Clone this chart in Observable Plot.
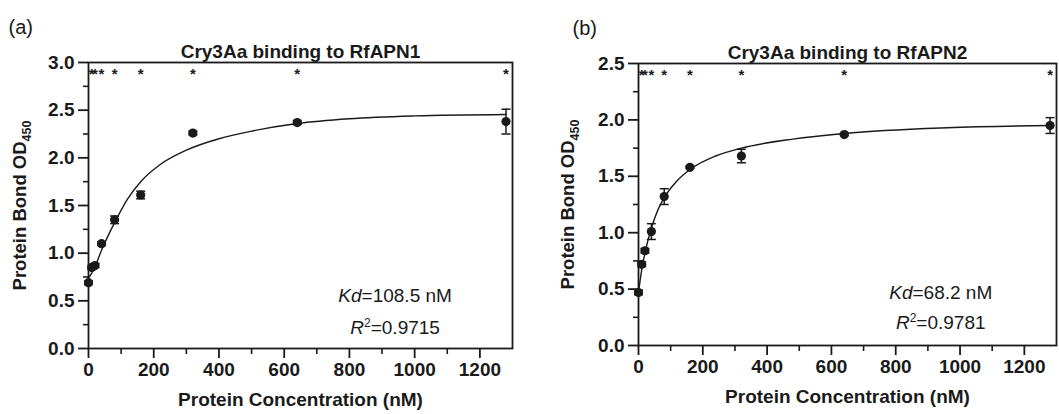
<!DOCTYPE html>
<html><head><meta charset="utf-8">
<script src="https://cdn.jsdelivr.net/npm/d3@7"></script>
<script src="https://cdn.jsdelivr.net/npm/@observablehq/plot@0.6"></script>
<style>
body{margin:0;background:#fff;}
#wrap{display:flex;width:1059px;height:414px;overflow:hidden;background:#fff;}
#wrap svg{flex:none;}
</style></head><body><div id="wrap"></div>
<script>
// ---- data ----
const conc = [0, 10, 20, 40, 80, 160, 320, 640, 1280];
const odA  = [0.69, 0.85, 0.87, 1.10, 1.35, 1.61, 2.26, 2.37, 2.38];
const errA = [0.02, 0.02, 0.02, 0.02, 0.04, 0.04, 0.02, 0.02, 0.13];
const odB  = [0.47, 0.72, 0.84, 1.01, 1.32, 1.58, 1.68, 1.87, 1.95];
const errB = [0.02, 0.02, 0.02, 0.07, 0.07, 0.01, 0.06, 0.01, 0.07];

const fitXA = [0, 10, 20, 40, 80, 120, 160, 220, 300, 400, 500, 640, 800, 1000, 1280];
const fitYA = [0.74, 0.79, 0.86, 1.03, 1.32, 1.57, 1.75, 1.93, 2.08, 2.20, 2.28, 2.36, 2.41, 2.44, 2.455];
const fitXB = [0, 10, 20, 40, 60, 80, 120, 160, 240, 320, 480, 640, 960, 1280];
const fitYB = [0.47, 0.67, 0.82, 1.04, 1.20, 1.31, 1.46, 1.56, 1.68, 1.75, 1.83, 1.88, 1.93, 1.95];

const starConc = [10, 20, 40, 80, 160, 320, 640, 1280];
const titles = ["Cry3Aa binding to RfAPN1", "Cry3Aa binding to RfAPN2"];
const panelLabels = ["(a)", "(b)"];
const kdTexts = ["Kd=108.5 nM", "Kd=68.2 nM"];
const r2Texts = ["R2=0.9715", "R2=0.9781"];
const yLabel = "Protein Bond OD450";
const xLabel = "Protein Concentration (nM)";
const xTicks = [0, 200, 400, 600, 800, 1000, 1200];
const xMinor = [100, 300, 500, 700, 900, 1100];
const yTicksA = [0, 0.5, 1.0, 1.5, 2.0, 2.5, 3.0];
const yMinorA = [0.25, 0.75, 1.25, 1.75, 2.25, 2.75];
const yTicksB = [0, 0.5, 1.0, 1.5, 2.0, 2.5];
const yMinorB = [0.25, 0.75, 1.25, 1.75, 2.25];

const FONT = "'Liberation Sans', Arial, Helvetica, sans-serif";
const INK = "#1a1a1a";
const cap = {draw(ctx) { ctx.moveTo(-4.5, 0); ctx.lineTo(4.5, 0); }};

function panel(cfg) {
  const pts = conc.map((c, i) => ({c, od: cfg.od[i], lo: cfg.od[i] - cfg.err[i], hi: cfg.od[i] + cfg.err[i]}));
  const fit = cfg.fx.map((x, i) => ({x, y: cfg.fy[i]}));
  const svg = Plot.plot({
    width: cfg.width, height: 414,
    marginLeft: cfg.ml, marginRight: cfg.mr, marginTop: cfg.mt, marginBottom: cfg.mb,
    x: {domain: [0, 1300], label: null},
    y: {domain: [0, cfg.ymax], label: null},
    style: {fontFamily: FONT, background: "#fff", color: INK, overflow: "visible"},
    marks: [
      Plot.frame({stroke: INK, strokeWidth: 1.8}),
      Plot.axisY(cfg.yt, {tickSize: 10, tickPadding: 4, tickFormat: d3.format(".1f"), fontSize: 19, fontWeight: "bold", stroke: INK, strokeWidth: 1.8, label: null}),
      Plot.axisY(cfg.ym, {tickSize: 5, tickFormat: () => "", stroke: INK, strokeWidth: 1.6, label: null}),
      Plot.axisX(xTicks, {tickSize: 10, tickPadding: 4, tickFormat: d => String(d), fontSize: 19, fontWeight: "bold", stroke: INK, strokeWidth: 1.8, label: null}),
      Plot.axisX(xMinor, {tickSize: 6, tickFormat: () => "", stroke: INK, strokeWidth: 1.6, label: null}),
      Plot.line(fit, {x: "x", y: "y", curve: "monotone-x", stroke: INK, strokeWidth: 1.4}),
      Plot.ruleX(pts, {x: "c", y1: "lo", y2: "hi", stroke: INK, strokeWidth: 1.5}),
      Plot.dot(pts, {x: "c", y: "hi", symbol: cap, stroke: INK, strokeWidth: 1.5, fill: "none"}),
      Plot.dot(pts, {x: "c", y: "lo", symbol: cap, stroke: INK, strokeWidth: 1.5, fill: "none"}),
      Plot.dot(pts, {x: "c", y: "od", r: 4.6, fill: INK, stroke: "none"}),
      Plot.text(starConc, {x: d => d, y: cfg.starY, text: () => "*", fontSize: 15, fontWeight: "bold", fill: INK, dy: 4}),
      Plot.text([cfg.title], {frameAnchor: "top", dy: -18, fontSize: 19, fontWeight: "bold", fill: INK}),
      Plot.text([cfg.tag], {frameAnchor: "top-left", dx: cfg.tagDx, dy: -43, textAnchor: "start", fontSize: 20, fill: INK}),
      Plot.text([xLabel], {frameAnchor: "bottom", dy: 57, fontSize: 19, fontWeight: "bold", fill: INK}),
      Plot.text([yLabel], {frameAnchor: "left", dx: cfg.ylDx, rotate: -90, textAnchor: "middle", fontSize: 18.5, fontWeight: "bold", fill: INK}),
      Plot.text([cfg.kd], {x: 940, y: cfg.kdY, fontSize: 19, fill: INK}),
      Plot.text([cfg.r2], {x: 940, y: cfg.r2Y, fontSize: 19, fill: INK})
    ]
  });
  // rich text: italics, super/subscripts
  d3.select(svg).selectAll("text").each(function() {
    const t = this.textContent;
    const s = d3.select(this);
    if (t === cfg.kd) {
      s.text(null);
      s.append("tspan").attr("font-style", "italic").text("Kd");
      s.append("tspan").text(t.slice(2));
    } else if (t === cfg.r2) {
      s.text(null);
      s.append("tspan").attr("font-style", "italic").text("R");
      s.append("tspan").attr("dy", -7).attr("font-size", 12).text("2");
      s.append("tspan").attr("dy", 7).text(t.slice(2));
    } else if (t === yLabel) {
      s.text(null);
      s.append("tspan").text("Protein Bond OD");
      s.append("tspan").attr("dy", 5).attr("font-size", 12.5).text("450");
    }
  });
  return svg;
}

const wrap = document.getElementById("wrap");
wrap.appendChild(panel({width: 530, ml: 88, mr: 18, mt: 62, mb: 66, ymax: 3, yt: yTicksA, ym: yMinorA,
  od: odA, err: errA, fx: fitXA, fy: fitYA, starY: 2.92, title: titles[0], tag: panelLabels[0], tagDx: -80, ylDx: -68,
  kd: kdTexts[0], r2: r2Texts[0], kdY: 0.55, r2Y: 0.22}));
wrap.appendChild(panel({width: 529, ml: 108, mr: 3, mt: 63, mb: 69, ymax: 2.5, yt: yTicksB, ym: yMinorB,
  od: odB, err: errB, fx: fitXB, fy: fitYB, starY: 2.43, title: titles[1], tag: panelLabels[1], tagDx: -66, ylDx: -70,
  kd: kdTexts[1], r2: r2Texts[1], kdY: 0.47, r2Y: 0.20}));
</script></body></html>
